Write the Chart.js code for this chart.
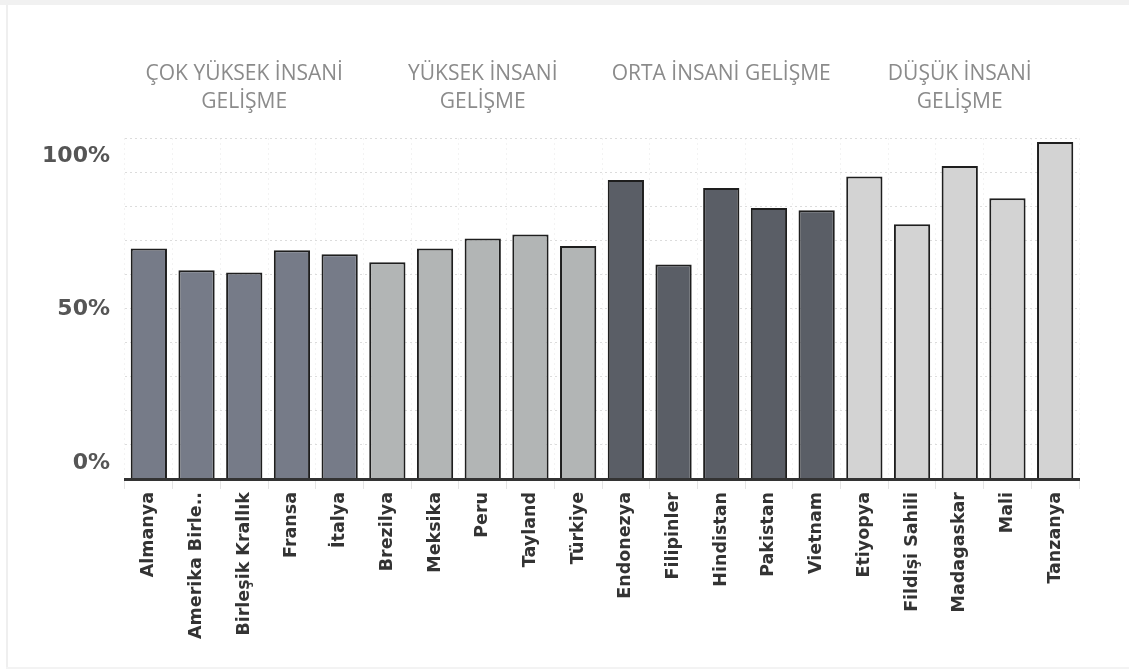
<!DOCTYPE html>
<html>
<head>
<meta charset="utf-8">
<script src="https://cdn.jsdelivr.net/npm/chart.js@4/dist/chart.umd.min.js"></script>
<style>
  html, body { margin: 0; padding: 0; background: #fff; }
  #wrap { position: relative; width: 1129px; height: 670px; overflow: hidden; }
  #topband { position: absolute; left: 0; top: 0; width: 1129px; height: 5px; background: #f1f1f1; }
  #leftline { position: absolute; left: 6px; top: 5px; width: 2px; height: 663px; background: #efefef; }
  #bottomline { position: absolute; left: 6px; top: 667px; width: 1123px; height: 2px; background: #f3f3f3; }
  #box { position: absolute; left: 0; top: 0; width: 1129px; height: 670px; }
</style>
</head>
<body>
<div id="wrap">
  <div id="topband"></div>
  <div id="leftline"></div>
  <div id="bottomline"></div>
  <div id="box"><canvas id="chart"></canvas></div>
</div>
<script>
const categories = ['Almanya', 'Amerika Birle..', 'Birleşik Krallık', 'Fransa', 'İtalya',
    'Brezilya', 'Meksika', 'Peru', 'Tayland', 'Türkiye',
    'Endonezya', 'Filipinler', 'Hindistan', 'Pakistan', 'Vietnam',
    'Etiyopya', 'Fildişi Sahili', 'Madagaskar', 'Mali', 'Tanzanya'];
const values = [75.1, 68.0, 67.3, 74.5, 73.2,
    70.6, 75.1, 78.4, 79.7, 75.9,
    97.4, 69.9, 94.8, 88.3, 87.6,
    98.6, 83.0, 102.0, 91.5, 109.8];
const groupOf = [0, 0, 0, 0, 0, 1, 1, 1, 1, 1, 2, 2, 2, 2, 2, 3, 3, 3, 3, 3];
const groupNames = [['ÇOK YÜKSEK İNSANİ', 'GELİŞME'], ['YÜKSEK İNSANİ', 'GELİŞME'],
    ['ORTA İNSANİ GELİŞME', ''], ['DÜŞÜK İNSANİ', 'GELİŞME']];
const yTicks = [0, 50, 100];

const groupColors = ['#767b88', '#b2b5b5', '#5a5e66', '#d3d3d3'];
const yMax = 100 / 0.9;

const ctx = document.getElementById('chart');

new Chart(ctx, {
    type: 'bar',
    data: {
        labels: categories,
        datasets: [{
            data: values,
            backgroundColor: groupOf.map(g => groupColors[g]),
            borderColor: '#1e1e1e',
            borderWidth: 2,
            barPercentage: 0.76,
            categoryPercentage: 1
        }]
    },
    options: {
        responsive: true,
        maintainAspectRatio: false,
        animation: false,
        layout: { padding: { left: 8, right: 50, top: 0, bottom: 0 } },
        plugins: {
            legend: { display: false },
            tooltip: { enabled: false }
        },
        scales: {
            x: {
                position: 'bottom',
                grid: { color: '#f3f3f3', tickColor: '#e4e4e4', tickLength: 10 },
                border: { color: '#333', width: 3, z: 1, dash: [2, 3] },
                ticks: {
                    autoSkip: false,
                    maxRotation: 90,
                    minRotation: 90,
                    padding: 3,
                    color: '#333',
                    font: { family: 'DejaVu Sans', weight: 'bold', size: 17.5 }
                },
                afterFit: s => { s.height = 191; }
            },
            x2: {
                type: 'category',
                position: 'top',
                labels: groupNames,
                offset: true,
                grid: { display: false, drawTicks: false },
                border: { display: false },
                ticks: {
                    autoSkip: false,
                    maxRotation: 0,
                    padding: 22,
                    color: '#8b8b8b',
                    font: { family: 'Open Sans', size: 21, lineHeight: 1.333 }
                },
                afterFit: s => { s.height = 138; }
            },
            y: {
                min: 0,
                max: yMax,
                grid: { display: false, drawTicks: false },
                border: { display: false },
                afterBuildTicks: axis => { axis.ticks = yTicks.map(v => ({ value: v })); },
                ticks: {
                    padding: 15,
                    labelOffset: -16,
                    color: '#555',
                    font: { family: 'DejaVu Sans', weight: 'bold', size: 22 },
                    callback: v => v + '%'
                },
                afterFit: s => { s.width = 117; }
            },
            yg: {
                position: 'left',
                min: 0,
                max: yMax,
                afterBuildTicks: axis => {
                    const t = [];
                    for (let i = 0; i <= 10; i++) t.push({ value: i * yMax / 10 });
                    axis.ticks = t;
                },
                grid: { color: '#dcdcdc', drawTicks: false },
                border: { display: false, dash: [2, 3] },
                ticks: { display: false },
                afterFit: s => { s.width = 0; }
            }
        }
    }
});
</script>
</body>
</html>
